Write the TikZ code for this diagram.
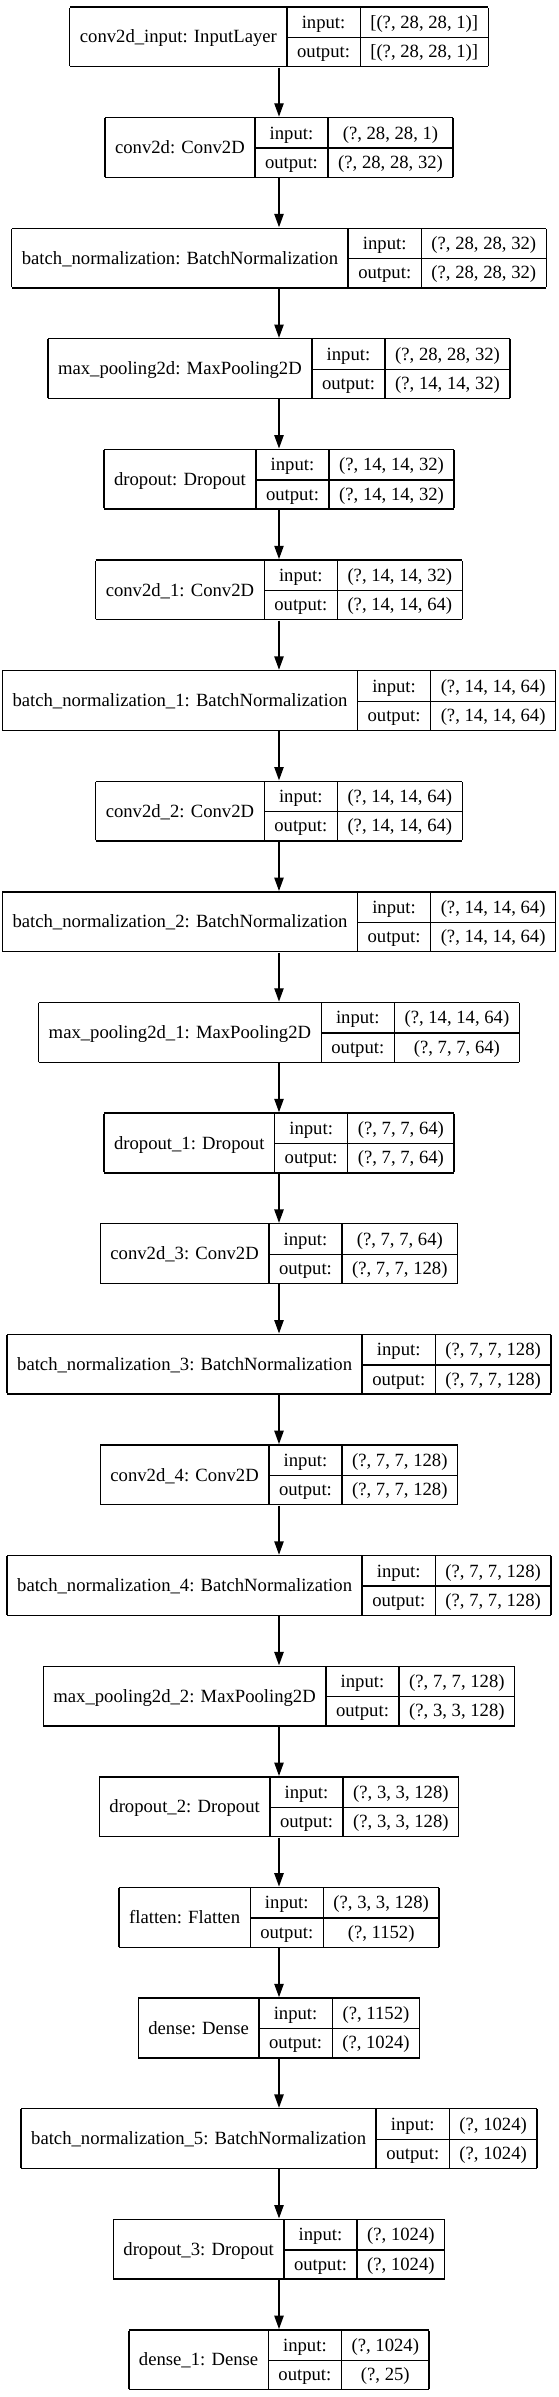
\documentclass[tikz,border=0pt]{standalone}
\usepackage{fontspec}
\setmainfont{Liberation Serif}
\usepackage{tikz}
\usetikzlibrary{arrows.meta,positioning}

\setlength{\tabcolsep}{7.6pt}
\setlength{\arrayrulewidth}{1pt}
\newcommand{\rowstrut}{\rule[-6.3pt]{0pt}{21.9pt}}
\newcommand{\layer}[3]{\begin{tabular}{|c|c|c|}\hline
\raisebox{-10.9pt}[0pt][0pt]{#1} & input:\rowstrut & {#2} \\ \cline{2-3}
 & output:\rowstrut & {#3} \\ \hline
\end{tabular}}

\tikzset{
    lay/.style={inner sep=0pt, anchor=north, font=\fontsize{14}{17}\selectfont},
    flow/.style={line width=1pt, -{Triangle[length=10pt,width=7pt]}}
}

\begin{document}
\begin{tikzpicture}[x=0.75pt, y=-0.75pt]
    \useasboundingbox (0,0) rectangle (559,2397);

    % input and first block
    \node[lay] (L0) at (279, 6) {\layer{conv2d\_input: InputLayer}{[(?, 28, 28, 1)]}{[(?, 28, 28, 1)]}};
    \node[lay] (L1) at (279, 116.62) {\layer{conv2d: Conv2D}{(?, 28, 28, 1)}{(?, 28, 28, 32)}};
    \node[lay] (L2) at (279, 227.24) {\layer{batch\_normalization: BatchNormalization}{(?, 28, 28, 32)}{(?, 28, 28, 32)}};
    \node[lay] (L3) at (279, 337.86) {\layer{max\_pooling2d: MaxPooling2D}{(?, 28, 28, 32)}{(?, 14, 14, 32)}};
    \node[lay] (L4) at (279, 448.48) {\layer{dropout: Dropout}{(?, 14, 14, 32)}{(?, 14, 14, 32)}};

    % second block
    \node[lay] (L5) at (279, 559.10) {\layer{conv2d\_1: Conv2D}{(?, 14, 14, 32)}{(?, 14, 14, 64)}};
    \node[lay] (L6) at (279, 669.72) {\layer{batch\_normalization\_1: BatchNormalization}{(?, 14, 14, 64)}{(?, 14, 14, 64)}};
    \node[lay] (L7) at (279, 780.34) {\layer{conv2d\_2: Conv2D}{(?, 14, 14, 64)}{(?, 14, 14, 64)}};
    \node[lay] (L8) at (279, 890.96) {\layer{batch\_normalization\_2: BatchNormalization}{(?, 14, 14, 64)}{(?, 14, 14, 64)}};
    \node[lay] (L9) at (279, 1001.58) {\layer{max\_pooling2d\_1: MaxPooling2D}{(?, 14, 14, 64)}{(?, 7, 7, 64)}};
    \node[lay] (L10) at (279, 1112.20) {\layer{dropout\_1: Dropout}{(?, 7, 7, 64)}{(?, 7, 7, 64)}};

    % third block
    \node[lay] (L11) at (279, 1222.82) {\layer{conv2d\_3: Conv2D}{(?, 7, 7, 64)}{(?, 7, 7, 128)}};
    \node[lay] (L12) at (279, 1333.44) {\layer{batch\_normalization\_3: BatchNormalization}{(?, 7, 7, 128)}{(?, 7, 7, 128)}};
    \node[lay] (L13) at (279, 1444.06) {\layer{conv2d\_4: Conv2D}{(?, 7, 7, 128)}{(?, 7, 7, 128)}};
    \node[lay] (L14) at (279, 1554.68) {\layer{batch\_normalization\_4: BatchNormalization}{(?, 7, 7, 128)}{(?, 7, 7, 128)}};
    \node[lay] (L15) at (279, 1665.30) {\layer{max\_pooling2d\_2: MaxPooling2D}{(?, 7, 7, 128)}{(?, 3, 3, 128)}};
    \node[lay] (L16) at (279, 1775.92) {\layer{dropout\_2: Dropout}{(?, 3, 3, 128)}{(?, 3, 3, 128)}};

    % dense head
    \node[lay] (L17) at (279, 1886.54) {\layer{flatten: Flatten}{(?, 3, 3, 128)}{(?, 1152)}};
    \node[lay] (L18) at (279, 1997.16) {\layer{dense: Dense}{(?, 1152)}{(?, 1024)}};
    \node[lay] (L19) at (279, 2107.78) {\layer{batch\_normalization\_5: BatchNormalization}{(?, 1024)}{(?, 1024)}};
    \node[lay] (L20) at (279, 2218.40) {\layer{dropout\_3: Dropout}{(?, 1024)}{(?, 1024)}};
    \node[lay] (L21) at (279, 2329.02) {\layer{dense\_1: Dense}{(?, 1024)}{(?, 25)}};

    % connections
    \draw[flow] (L0) -- (L1);
    \draw[flow] (L1) -- (L2);
    \draw[flow] (L2) -- (L3);
    \draw[flow] (L3) -- (L4);
    \draw[flow] (L4) -- (L5);
    \draw[flow] (L5) -- (L6);
    \draw[flow] (L6) -- (L7);
    \draw[flow] (L7) -- (L8);
    \draw[flow] (L8) -- (L9);
    \draw[flow] (L9) -- (L10);
    \draw[flow] (L10) -- (L11);
    \draw[flow] (L11) -- (L12);
    \draw[flow] (L12) -- (L13);
    \draw[flow] (L13) -- (L14);
    \draw[flow] (L14) -- (L15);
    \draw[flow] (L15) -- (L16);
    \draw[flow] (L16) -- (L17);
    \draw[flow] (L17) -- (L18);
    \draw[flow] (L18) -- (L19);
    \draw[flow] (L19) -- (L20);
    \draw[flow] (L20) -- (L21);
\end{tikzpicture}
\end{document}
